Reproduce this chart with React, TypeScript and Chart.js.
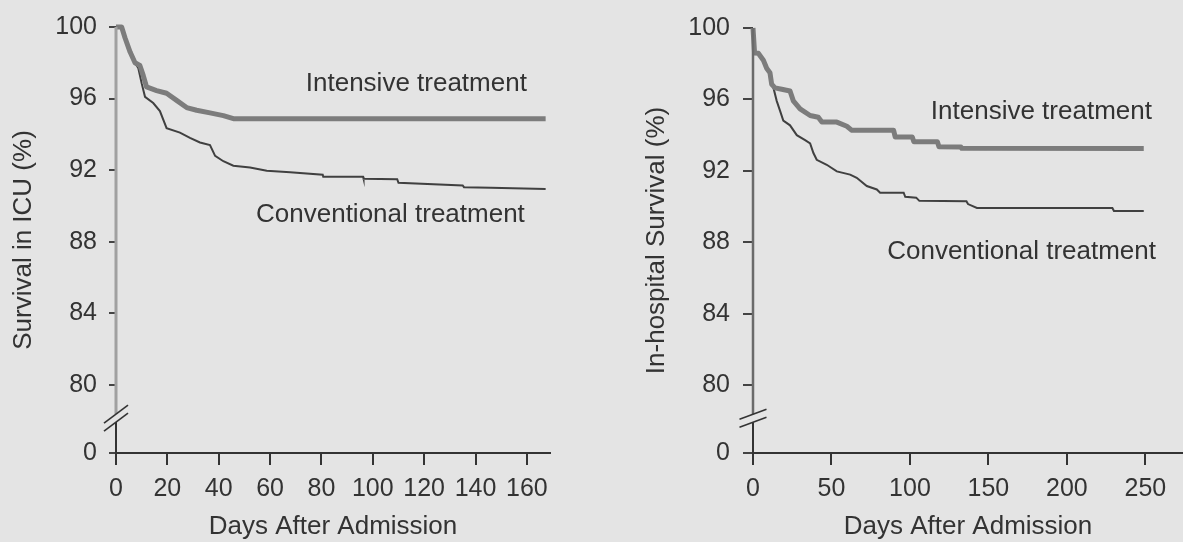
import React, { useEffect, useRef } from 'react';
import { Chart, registerables } from 'chart.js';

Chart.register(...registerables);

const FONT = '"Liberation Sans", Arial, Helvetica, sans-serif';
const TEXT = '#333333';
const BG = '#e4e4e4';

// ---------- shared axis data ----------
const yTickValues = [80, 84, 88, 92, 96, 100];
const yZeroSlot = 76.2; // position on the broken axis that stands for 0
const yBreakAt = 78.15; // where the axis break marks sit

// ---------- left panel: Survival in ICU ----------
const icuXTicks = [0, 20, 40, 60, 80, 100, 120, 140, 160];
const icuDaysIntensive = [0, 2.2, 3.5, 5.5, 7.4, 9.3, 10.6, 11.9, 15.8, 19.7, 23.6, 27.5, 31.4, 36.6, 41.8, 45.7, 167.3];
const icuIntensive = [100, 100, 99.4, 98.6, 98.0, 97.85, 97.3, 96.65, 96.45, 96.3, 95.9, 95.5, 95.35, 95.2, 95.05, 94.88, 94.88];
const icuDaysConventional = [0, 2.2, 3.5, 5.5, 7.4, 8.7, 10, 11.3, 14.5, 17.1, 19.7, 24.9, 28.8, 32.7, 36.6, 38.6, 41.8, 45.7, 52.2, 58.7, 67.8, 80.5, 80.7, 96.2, 96.4, 109.5, 110, 135, 135.5, 146, 167.3];
const icuConventional = [100, 100, 99.4, 98.6, 98.0, 97.7, 96.85, 96.1, 95.75, 95.3, 94.35, 94.1, 93.8, 93.55, 93.4, 92.8, 92.5, 92.25, 92.15, 91.97, 91.88, 91.75, 91.64, 91.64, 91.52, 91.5, 91.3, 91.15, 91.05, 91.02, 90.95];
const icuLabelText = ['Intensive treatment', 'Conventional treatment'];
const icuLabelDay = [160, 159.2];
const icuLabelValue = [96.8, 89.53];

// ---------- right panel: In-hospital survival ----------
const hospXTicks = [0, 50, 100, 150, 200, 250];
const hospDaysIntensive = [0, 1, 3.4, 6.6, 8.7, 10.8, 11.9, 14, 18.3, 23.6, 25.7, 30, 36.4, 41.6, 43.9, 53.4, 59.8, 63, 89.6, 90.6, 101.5, 102.5, 117.5, 118.5, 132.5, 133, 249];
const hospIntensive = [100, 98.6, 98.58, 98.2, 97.75, 97.5, 96.85, 96.65, 96.57, 96.47, 95.92, 95.47, 95.1, 95.0, 94.73, 94.73, 94.5, 94.27, 94.27, 93.9, 93.9, 93.63, 93.63, 93.35, 93.33, 93.26, 93.25];
const hospDaysConventional = [0, 1, 3.4, 6.6, 8.7, 10.8, 11.9, 13, 15.1, 17.2, 19.3, 23.6, 27.9, 33.2, 36.4, 38.5, 40.6, 47, 53.4, 61.9, 66.1, 72.5, 78.9, 81, 96, 97, 104, 106, 136, 137, 142.7, 229, 230, 249];
const hospConventional = [100, 98.6, 98.58, 98.2, 97.75, 97.5, 96.85, 96.66, 95.92, 95.37, 94.82, 94.55, 94.0, 93.72, 93.54, 93.0, 92.62, 92.34, 91.97, 91.79, 91.61, 91.15, 90.96, 90.78, 90.78, 90.55, 90.5, 90.32, 90.3, 90.14, 89.92, 89.92, 89.75, 89.75];
const hospLabelText = ['Intensive treatment', 'Conventional treatment'];
const hospLabelDay = [254.2, 256.8];
const hospLabelValue = [95.32, 87.49];

const toPoints = (xs: number[], ys: number[]) => xs.map((x, i) => ({ x, y: ys[i] }));

const breakPlugin = {
  id: 'axisBreak',
  afterDraw(chart: any, _args: any, opts: any) {
    const { ctx, chartArea, scales } = chart;
    const xs = scales.x;
    const ys = scales.y;
    const ax = Math.round(xs.getPixelForValue(0));
    const yb = ys.getPixelForValue(opts.breakAt);
    const g = opts.gap / 2;
    ctx.save();
    ctx.lineCap = 'butt';
    // upper part of the y axis
    ctx.strokeStyle = opts.upperColor;
    ctx.lineWidth = opts.upperWidth;
    ctx.beginPath();
    ctx.moveTo(ax, ys.getPixelForValue(100));
    ctx.lineTo(ax, yb - g);
    ctx.stroke();
    // lower part of the y axis
    ctx.strokeStyle = opts.lowerColor;
    ctx.lineWidth = 2;
    ctx.beginPath();
    ctx.moveTo(ax, yb + g);
    ctx.lineTo(ax, chartArea.bottom);
    ctx.stroke();
    // break slashes
    ctx.strokeStyle = opts.lowerColor;
    ctx.lineWidth = 1.6;
    for (const off of [-g, g]) {
      ctx.beginPath();
      ctx.moveTo(ax - opts.slashW / 2, yb + off + opts.slashH / 2);
      ctx.lineTo(ax + opts.slashW / 2, yb + off - opts.slashH / 2);
      ctx.stroke();
    }
    // curve labels
    ctx.font = `26px ${FONT}`;
    ctx.fillStyle = TEXT;
    ctx.textAlign = 'right';
    ctx.textBaseline = 'middle';
    opts.labelText.forEach((t: string, i: number) => {
      ctx.fillText(t, xs.getPixelForValue(opts.labelDay[i]), ys.getPixelForValue(opts.labelValue[i]));
    });
    ctx.restore();
  },
};

type PanelProps = {
  left: number;
  width: number;
  yAxisWidth: number;
  xMax: number;
  padRight: number;
  xTicks: number[];
  yTitle: string;
  yTitlePad: number;
  yTickLength: number;
  yTickPad: number;
  daysI: number[];
  valsI: number[];
  daysC: number[];
  valsC: number[];
  labelText: string[];
  labelDay: number[];
  labelValue: number[];
  upperAxisColor: string;
  upperAxisWidth: number;
  slashW: number;
  slashH: number;
  gap: number;
};

const HEIGHT = 542;
const AXIS_Y = 453;

function Panel(p: PanelProps) {
  const ref = useRef<HTMLCanvasElement | null>(null);
  useEffect(() => {
    if (!ref.current) return;
    const chart = new Chart(ref.current, {
      type: 'line',
      data: {
        datasets: [
          {
            label: 'Intensive treatment',
            data: toPoints(p.daysI, p.valsI),
            borderColor: '#7c7c7c',
            borderWidth: 5,
            pointRadius: 0,
            tension: 0,
            fill: false,
            clip: false as any,
            borderJoinStyle: 'round',
            borderCapStyle: 'butt',
          },
          {
            label: 'Conventional treatment',
            data: toPoints(p.daysC, p.valsC),
            borderColor: '#404040',
            borderWidth: 2,
            pointRadius: 0,
            tension: 0,
            fill: false,
            clip: false as any,
          },
        ],
      },
      options: {
        animation: false,
        responsive: false,
        devicePixelRatio: 1,
        parsing: false as any,
        layout: { padding: { top: 21, right: p.padRight, bottom: 0, left: 0 } },
        plugins: {
          legend: { display: false },
          tooltip: { enabled: false },
          axisBreak: {
            breakAt: yBreakAt,
            gap: p.gap,
            upperColor: p.upperAxisColor,
            upperWidth: p.upperAxisWidth,
            lowerColor: '#333333',
            slashW: p.slashW,
            slashH: p.slashH,
            labelText: p.labelText,
            labelDay: p.labelDay,
            labelValue: p.labelValue,
          },
        } as any,
        scales: {
          x: {
            type: 'linear',
            min: 0,
            max: p.xMax,
            afterFit: (s: any) => {
              s.height = HEIGHT - AXIS_Y;
            },
            afterBuildTicks: (s: any) => {
              s.ticks = p.xTicks.map((v) => ({ value: v }));
            },
            grid: {
              drawOnChartArea: false,
              drawTicks: true,
              tickLength: 12,
              color: '#333333',
              lineWidth: 2,
            },
            border: { display: true, color: '#333333', width: 2 },
            ticks: {
              font: { family: FONT, size: 25 },
              color: TEXT,
              padding: 9,
              maxRotation: 0,
              autoSkip: false,
            },
            title: {
              display: true,
              text: 'Days After Admission',
              font: { family: FONT, size: 26 },
              color: TEXT,
              padding: { top: 0, bottom: 0 },
            },
          },
          y: {
            type: 'linear',
            min: yZeroSlot,
            max: 100,
            afterFit: (s: any) => {
              s.width = p.yAxisWidth;
            },
            afterBuildTicks: (s: any) => {
              s.ticks = [yZeroSlot, ...yTickValues].map((v) => ({ value: v }));
            },
            grid: {
              drawOnChartArea: false,
              drawTicks: true,
              tickLength: p.yTickLength,
              color: '#444444',
              lineWidth: 2,
            },
            border: { display: false },
            ticks: {
              font: { family: FONT, size: 25 },
              color: TEXT,
              padding: p.yTickPad,
              autoSkip: false,
              callback: (v: any) => (Math.abs(Number(v) - yZeroSlot) < 0.01 ? '0' : String(v)),
            },
            title: {
              display: true,
              text: p.yTitle,
              font: { family: FONT, size: 26 },
              color: TEXT,
              padding: { top: p.yTitlePad, bottom: 0 },
            },
          },
        },
      },
      plugins: [breakPlugin],
    } as any);
    return () => chart.destroy();
  }, []);
  return (
    <canvas
      ref={ref}
      width={p.width}
      height={HEIGHT}
      style={{ position: 'absolute', left: p.left, top: 0, width: p.width, height: HEIGHT }}
    />
  );
}

export default function App() {
  return (
    <div
      style={{
        position: 'absolute',
        left: 0,
        top: 0,
        width: 1183,
        height: HEIGHT,
        background: BG,
        overflow: 'hidden',
      }}
    >
      <Panel
        left={0}
        width={590}
        yAxisWidth={116}
        xMax={169}
        padRight={40}
        xTicks={icuXTicks}
        yTitle="Survival in ICU (%)"
        yTitlePad={8}
        yTickLength={7}
        yTickPad={12}
        daysI={icuDaysIntensive}
        valsI={icuIntensive}
        daysC={icuDaysConventional}
        valsC={icuConventional}
        labelText={icuLabelText}
        labelDay={icuLabelDay}
        labelValue={icuLabelValue}
        upperAxisColor="#a0a0a0"
        upperAxisWidth={3}
        slashW={24}
        slashH={18}
        gap={8}
      />
      <Panel
        left={590}
        width={593}
        yAxisWidth={163}
        xMax={274}
        padRight={0}
        xTicks={hospXTicks}
        yTitle="In-hospital Survival (%)"
        yTitlePad={51}
        yTickLength={10}
        yTickPad={13}
        daysI={hospDaysIntensive}
        valsI={hospIntensive}
        daysC={hospDaysConventional}
        valsC={hospConventional}
        labelText={hospLabelText}
        labelDay={hospLabelDay}
        labelValue={hospLabelValue}
        upperAxisColor="#6a6a6a"
        upperAxisWidth={2.5}
        slashW={27}
        slashH={10}
        gap={8}
      />
    </div>
  );
}
